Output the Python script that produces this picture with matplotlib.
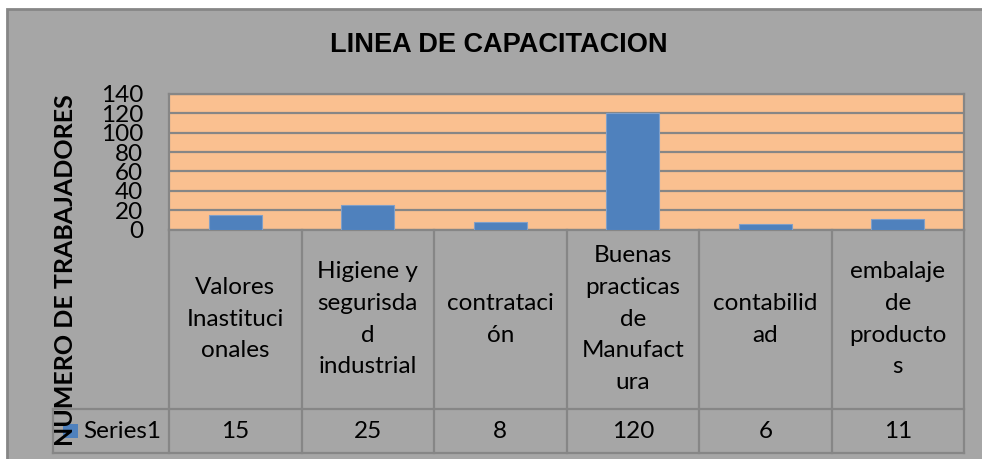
import matplotlib
matplotlib.use("Agg")
import matplotlib.pyplot as plt
from matplotlib.patches import Rectangle

categories = ["Valores\nInastituci\nonales", "Higiene y\nsegurisda\nd\nindustrial",
              "contrataci\nón", "Buenas\npracticas\nde\nManufact\nura",
              "contabilid\nad", "embalaje\nde\nproducto\ns"]
values = [15, 25, 8, 120, 6, 11]
series_name = "Series1"
yticks = [0, 20, 40, 60, 80, 100, 120, 140]
title = "LINEA DE CAPACITACION"
ylabel = "NUMERO DE TRABAJADORES"

W, H = 982, 459
BG = "#a6a6a6"
PLOT_BG = "#fac090"
BAR = "#4f81bd"
LINE = "#868686"
FONT = ["Lato", "DejaVu Sans"]
FS = 17.5

fig = plt.figure(figsize=(W / 100, H / 100), dpi=100)
fig.patch.set_facecolor("white")

# chart area (grey box with border)
fig.patches.append(Rectangle((7 / W, -0.01), 1, 1 - 9 / H + 0.01, transform=fig.transFigure,
                             facecolor=BG, edgecolor=LINE, linewidth=2, zorder=-5))


def px_axes(x0, y0, x1, y1):
    return fig.add_axes([x0 / W, 1 - y1 / H, (x1 - x0) / W, (y1 - y0) / H])


# plot area
ax = px_axes(169, 94, 964, 229.5)
n = len(values)
ax.set_facecolor(PLOT_BG)
ax.bar(range(n), values, width=0.4, color=BAR, edgecolor="#7f9fc9", linewidth=0.8, zorder=3)
ax.set_xlim(-0.5, n - 0.5)
ax.set_ylim(0, 140)
ax.set_yticks(yticks)
ax.set_yticklabels([str(t) for t in yticks], fontsize=FS, family=FONT, color="black")
ax.tick_params(axis="y", length=0, pad=18.5)
ax.set_xticks([])
ax.grid(axis="y", color=LINE, linewidth=1.6, zorder=1)
for s in ax.spines.values():
    s.set_color(LINE)
    s.set_linewidth(1.6)
ax.set_axisbelow(True)

# data table below the plot
tb = px_axes(53, 229.5, 964, 453)
tb.patch.set_visible(False)
left = -0.5 - 116 / 132.5
tb.set_xlim(left, n - 0.5)
tb.set_ylim(223.5, 0)
tb.axis("off")
lw = 1.6
row_split = 179.5
for i in range(n + 1):
    tb.plot([i - 0.5, i - 0.5], [0, 223.5], color=LINE, lw=lw, clip_on=False)
tb.plot([left, left], [row_split, 223.5], color=LINE, lw=lw, clip_on=False)
tb.plot([left, n - 0.5], [row_split, row_split], color=LINE, lw=lw, clip_on=False)
tb.plot([left, n - 0.5], [223.5, 223.5], color=LINE, lw=lw, clip_on=False)
for i, (c, v) in enumerate(zip(categories, values)):
    tb.text(i, row_split / 2, c, ha="center", va="center", fontsize=FS, family=FONT,
            linespacing=1.63, color="black")
    tb.text(i, (row_split + 223.5) / 2, str(v), ha="center", va="center", fontsize=FS,
            family=FONT, color="black")
tb.add_patch(Rectangle((left + 10 / 132.5, 194), 15 / 132.5, 14, facecolor=BAR,
                       edgecolor="none", clip_on=False))
tb.text(left + 30 / 132.5, (row_split + 223.5) / 2, series_name, ha="left", va="center",
        fontsize=FS, family=FONT, color="black")

fig.text(499 / W, 1 - 45 / H, title, ha="center", va="center", fontsize=19.5,
         fontweight="bold", family=["Liberation Sans", "DejaVu Sans"])
fig.text(66 / W, 1 - 270 / H, ylabel, ha="center", va="center", rotation=90,
         fontsize=18, fontweight="bold", family=FONT)

fig.savefig("out.png", dpi=100, facecolor=fig.get_facecolor())
